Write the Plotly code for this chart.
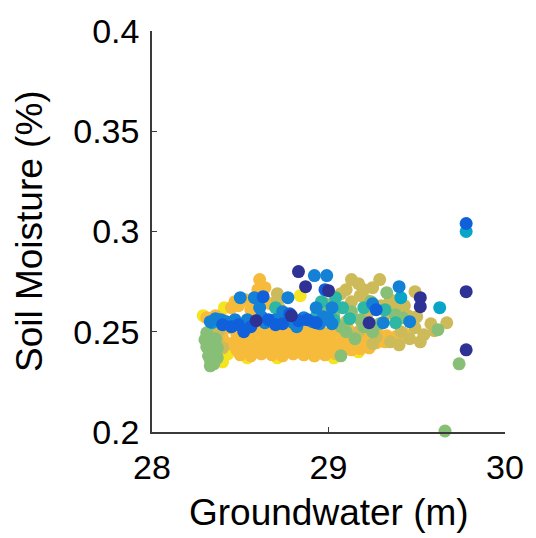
import plotly.graph_objects as go

# Parula-style colour scale used for the third variable (point colour)
PARULA = [
    [0.0, "#352a87"], [0.125, "#0f5cdd"], [0.25, "#1481d6"],
    [0.375, "#06a4ca"], [0.5, "#2eb7a4"], [0.625, "#87bf77"],
    [0.75, "#cdbb5a"], [0.85, "#f7bb3c"], [1.0, "#f5f01a"],
]

# Groundwater (m) / soil moisture pairs, grouped by colour level.
yellow_gw = [28.41, 28.29, 28.41, 28.43, 28.40, 28.54, 28.71, 28.83, 28.92, 29.03, 29.17, 29.22, 29.33, 28.84]
yellow_sm = [0.262, 0.258, 0.244, 0.239, 0.235, 0.237, 0.237, 0.240, 0.238, 0.237, 0.240, 0.245, 0.246, 0.268]

orange_gw = [28.31, 28.36, 28.40, 28.40, 28.43, 28.44,
             28.61, 28.64, 28.60, 28.47, 28.53,
             28.45, 28.49, 28.56, 28.67, 28.72,
             28.48, 28.53, 28.58, 28.63, 28.68, 28.73, 28.77, 28.83, 28.88, 28.93, 28.98, 29.03, 29.08, 29.13, 29.18,
             28.47, 28.52, 28.57, 28.62, 28.67, 28.72, 28.77, 28.82, 28.87, 28.92, 28.97, 29.02, 29.07, 29.12, 29.17,
             29.22, 29.27, 29.32, 29.37,
             28.48, 28.53, 28.58, 28.63, 28.68, 28.73, 28.78, 28.83, 28.88, 28.93, 28.98, 29.03, 29.08, 29.13, 29.18, 29.23,
             28.50, 28.56, 28.62, 28.68, 28.74, 28.80, 28.86, 28.92, 28.98, 29.04,
             28.47, 28.55, 28.63, 28.71, 28.79, 28.87, 28.95, 29.03, 29.11, 29.19,
             29.23, 29.28, 29.33, 29.38, 29.43]
orange_sm = [0.257, 0.258, 0.256, 0.247, 0.244, 0.252,
             0.276, 0.272, 0.271, 0.265, 0.266,
             0.262, 0.263, 0.261, 0.264, 0.262,
             0.249, 0.2485, 0.250, 0.249, 0.2495, 0.249, 0.2485, 0.250, 0.249, 0.2495, 0.249, 0.250, 0.249, 0.2485, 0.249,
             0.245, 0.2455, 0.245, 0.2445, 0.245, 0.2455, 0.245, 0.2445, 0.245, 0.2455, 0.245, 0.245, 0.2445, 0.245, 0.2455,
             0.245, 0.2445, 0.245, 0.2455,
             0.241, 0.2415, 0.241, 0.2405, 0.241, 0.2415, 0.241, 0.2405, 0.241, 0.241, 0.2415, 0.241, 0.2405, 0.241, 0.2415, 0.242,
             0.2385, 0.238, 0.239, 0.2385, 0.238, 0.239, 0.2385, 0.238, 0.2385, 0.239,
             0.2515, 0.252, 0.2515, 0.252, 0.2515, 0.252, 0.2515, 0.252, 0.2515, 0.252,
             0.2485, 0.249, 0.248, 0.2475, 0.249]

olive_gw = [29.13, 29.17, 29.29, 29.25, 29.07, 29.13, 29.18, 29.49, 29.35, 29.43, 29.58, 29.67, 29.54, 29.49,
            29.41, 29.33, 29.22, 29.10, 29.17, 29.27, 29.35, 29.46, 29.04, 28.71, 28.71, 28.37, 28.40,
            29.20, 29.30, 29.38, 29.45, 29.50, 29.60, 29.40, 29.25, 29.52, 29.10, 29.22, 28.38, 28.35]
olive_sm = [0.276, 0.274, 0.276, 0.272, 0.269, 0.265, 0.268, 0.270, 0.266, 0.263, 0.254, 0.2545, 0.2485, 0.252,
            0.250, 0.259, 0.259, 0.255, 0.250, 0.2475, 0.245, 0.2465, 0.262, 0.266, 0.269, 0.246, 0.242,
            0.271, 0.263, 0.262, 0.258, 0.2575, 0.2505, 0.2435, 0.244, 0.245, 0.271, 0.2655, 0.2505, 0.2525]

green_gw = [29.33, 29.62, 29.07, 29.74, 29.66, 29.13, 29.18, 29.07, 29.29, 29.42, 29.24,
            28.32, 28.33, 28.33, 28.33, 28.37, 28.37, 28.31, 28.99,
            29.03, 29.10, 29.20, 29.15, 29.25, 29.38, 28.98,
            28.31, 28.32, 28.35, 28.36, 28.30]
green_sm = [0.2695, 0.251, 0.238, 0.234, 0.2005, 0.260, 0.256, 0.2525, 0.254, 0.257, 0.265,
            0.245, 0.2405, 0.236, 0.233, 0.237, 0.242, 0.2495, 0.260,
            0.258, 0.250, 0.2525, 0.2465, 0.250, 0.2585, 0.264,
            0.2425, 0.238, 0.234, 0.2465, 0.246]

teal_gw = [28.93, 29.03, 28.70, 29.04, 29.32, 29.38, 29.08, 29.12, 28.96, 29.20]
teal_sm = [0.2575, 0.256, 0.262, 0.267, 0.261, 0.2545, 0.262, 0.2565, 0.265, 0.262]

cyan_gw = [29.41, 29.63, 29.78, 28.34]
cyan_sm = [0.267, 0.262, 0.300, 0.2545]

light_blue_gw = [28.50, 28.58, 28.77, 28.92, 28.99, 29.40, 29.25, 29.46, 29.31, 28.33, 28.39, 28.44,
                 28.54, 28.64, 28.70, 28.86, 28.91, 28.97, 29.02, 28.82, 28.74, 28.61, 28.93, 29.02,
                 28.36, 28.42, 28.47, 28.57, 28.62, 28.68, 28.76, 28.80, 28.84, 28.95, 29.00]
light_blue_sm = [0.267, 0.267, 0.267, 0.278, 0.278, 0.2725, 0.264, 0.255, 0.2545, 0.255, 0.256, 0.254,
                 0.256, 0.2545, 0.256, 0.257, 0.255, 0.2575, 0.254, 0.2525, 0.260, 0.262, 0.262, 0.262,
                 0.2565, 0.255, 0.256, 0.2545, 0.2575, 0.2555, 0.2565, 0.2545, 0.2555, 0.254, 0.2565]

blue_gw = [28.63, 28.98, 28.49, 28.52, 28.66, 28.74, 28.78, 28.88, 29.27, 29.78, 28.45,
           28.40, 28.56, 28.70, 28.83, 28.93]
blue_sm = [0.2675, 0.271, 0.2535, 0.250, 0.256, 0.254, 0.259, 0.256, 0.261, 0.304, 0.2525,
           0.2535, 0.2525, 0.2535, 0.2555, 0.2545]

dark_blue_gw = [28.83, 28.87, 29.00, 28.59, 28.79, 29.23, 29.52, 29.52, 29.78, 29.78]
dark_blue_sm = [0.280, 0.2725, 0.2705, 0.2555, 0.258, 0.2545, 0.267, 0.2625, 0.270, 0.241]

# (groundwater, soil moisture, colour level) drawn from high to low level
groups = [
    (yellow_gw, yellow_sm, 0.97),
    (orange_gw, orange_sm, 0.85),
    (olive_gw, olive_sm, 0.75),
    (green_gw, green_sm, 0.625),
    (teal_gw, teal_sm, 0.50),
    (cyan_gw, cyan_sm, 0.38),
    (light_blue_gw, light_blue_sm, 0.25),
    (blue_gw, blue_sm, 0.14),
    (dark_blue_gw, dark_blue_sm, 0.02),
]

gw, sm, level = [], [], []
for gx, gy, c in groups:
    gw += gx
    sm += gy
    level += [c] * len(gx)

fig = go.Figure(go.Scatter(
    x=gw, y=sm, mode="markers", cliponaxis=False,
    marker=dict(size=13, color=level, colorscale=PARULA, cmin=0, cmax=1,
                line=dict(width=0), showscale=False),
    hoverinfo="skip",
))

axis_style = dict(
    showline=True, linecolor="#3a3a3a", linewidth=1.5, mirror=False,
    ticks="inside", ticklen=5, tickwidth=1.3, tickcolor="#3a3a3a",
    showgrid=False, zeroline=False,
    tickfont=dict(size=34, color="black"),
)

fig.update_xaxes(range=[28, 30], tickvals=[28, 29, 30], ticktext=["28", "29", "30"],
                 ticklabelstandoff=4, **axis_style)
fig.update_yaxes(range=[0.2, 0.4], tickvals=[0.2, 0.25, 0.3, 0.35, 0.4],
                 ticktext=["0.2", "0.25", "0.3", "0.35", "0.4"],
                 ticklabelstandoff=4, **axis_style)

fig.update_layout(
    width=536, height=538,
    margin=dict(l=152, r=24, t=24, b=106),
    plot_bgcolor="white", paper_bgcolor="white",
    font=dict(family="Liberation Sans, Arial, sans-serif", color="black"),
    showlegend=False,
    annotations=[
        dict(text="Groundwater (m)", xref="paper", yref="paper", x=0.5, y=-0.201,
             xanchor="center", yanchor="middle", showarrow=False, font=dict(size=37)),
        dict(text="Soil Moisture (%)", xref="paper", yref="paper", x=-0.347, y=0.5,
             xanchor="center", yanchor="middle", textangle=-90, showarrow=False,
             font=dict(size=37)),
    ],
)

fig.write_html("out.html")
